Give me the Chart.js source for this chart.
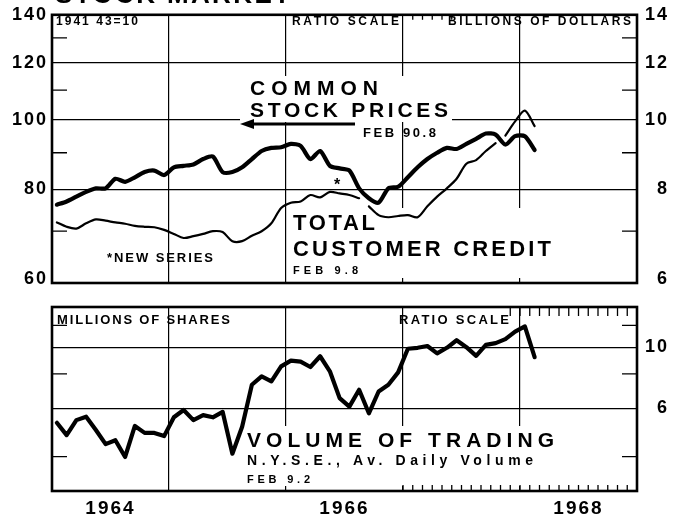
<!DOCTYPE html>
<html>
<head>
<meta charset="utf-8">
<script src="https://cdn.jsdelivr.net/npm/chart.js@4.4.1/dist/chart.umd.min.js"></script>
<style>
  html, body { margin: 0; padding: 0; background: #fff; }
  #wrap { position: relative; width: 682px; height: 514px; }
  canvas { position: absolute; left: 0; top: 0; }
</style>
</head>
<body>
<div id="wrap">
  <canvas id="topChart" width="682" height="514"></canvas>
  <canvas id="bottomChart" width="682" height="514"></canvas>
</div>
<script>
// Months counted from Jan 1964; each value is plotted at mid-month
const yearNames = ['1964', '1965', '1966', '1967', '1968'];
const shownYears = ['1964', '1966', '1968'];

// Common stock prices, 1941-43=10, Jan 1964 - Feb 1968
const stockPrices = [
  76.2, 77.0, 78.2, 79.4, 80.3, 80.3, 82.8, 82.0, 83.2, 84.6, 85.0, 83.8,
  85.9, 86.3, 86.7, 88.2, 88.9, 84.6, 84.6, 85.9, 88.2, 90.5, 91.4, 91.6,
  92.6, 92.0, 88.2, 90.5, 86.3, 85.6, 85.0, 80.3, 77.8, 76.7, 80.3, 80.7,
  83.2, 85.9, 88.2, 90.0, 91.4, 91.1, 92.6, 94.1, 95.7, 95.4, 92.4, 94.9,
  94.9, 90.8
];

// Total customer credit (billions x10 on the left scale)
const creditOld = [          // Jan 1964 - Aug 1966
  72.0, 71.0, 70.6, 71.8, 72.7, 72.4, 72.0, 71.7, 71.2, 71.0, 70.9, 70.3,
  69.4, 68.5, 68.9, 69.4, 70.0, 69.8, 67.8, 67.8, 69.0, 70.0, 71.8, 75.4,
  76.7, 77.0, 78.6, 78.0, 79.4, 79.0, 78.6, 77.8
];
const creditNew = [          // new series, Sep 1966 - Oct 1967
  75.8, 73.7, 73.2, 73.5, 73.7, 73.2, 75.8, 78.2, 80.3, 82.8, 86.9, 87.9,
  90.5, 92.8
];
const creditRecent = [95.1, 99.5, 103.0, 98.0];   // Nov 1967 - Feb 1968

// NYSE average daily volume, millions of shares
const volume = [
  5.31, 4.79, 5.43, 5.59, 5.00, 4.44, 4.59, 3.99, 5.17, 4.88, 4.88, 4.75,
  5.56, 5.91, 5.43, 5.66, 5.56, 5.82, 4.10, 5.14, 7.30, 7.83, 7.51, 8.52,
  8.94, 8.86, 8.47, 9.27, 8.17, 6.53, 6.08, 7.00, 5.75, 6.90, 7.30, 8.10,
  9.87, 9.95, 10.1, 9.5, 9.95, 10.6, 10.0, 9.3, 10.2, 10.35, 10.7, 11.4,
  11.9, 9.2
];

// Tick values
const priceTicks = [60, 70, 80, 90, 100, 110, 120, 130, 140];
const priceLabels = [60, 80, 100, 120, 140];
const priceGrid = [80, 100, 120];
const priceMinor = [70, 90, 110, 130];
const volumeTicks = [4, 6, 8, 10, 12];
const volumeLabels = [6, 10];
const volumeGrid = [6, 10];
const volumeMinor = [4, 8, 12];

const FONT = '"Liberation Sans", Arial, sans-serif';
const monthPoints = (vals, first) => vals.map((v, i) => ({ x: first + i + 0.5, y: v }));

function drawNote(ctx, n) {
  ctx.save();
  ctx.font = `bold ${n.size}px ${FONT}`;
  ctx.fillStyle = '#000';
  ctx.textBaseline = 'alphabetic';
  ctx.letterSpacing = '0px';
  const count = [...n.t].length;
  const natural = ctx.measureText(n.t).width;
  const sp = count > 1 ? (n.w - natural) / (count - 1) : 0;
  ctx.letterSpacing = sp + 'px';
  ctx.fillText(n.t, n.x, n.y);
  ctx.restore();
}

// Frame, minor ticks, white boxes behind captions, captions
function decorate(spec) {
  return {
    id: 'decorate',
    beforeDraw(chart) {
      chart.ctx.letterSpacing = '2px';
    },
    beforeDatasetsDraw(chart) {
      const ctx = chart.ctx;
      ctx.letterSpacing = '0px';
      ctx.save();
      ctx.fillStyle = '#fff';
      (spec.boxes || []).forEach(b => ctx.fillRect(b[0], b[1], b[2], b[3]));
      ctx.restore();
    },
    afterDatasetsDraw(chart) {
      const ctx = chart.ctx;
      const a = chart.chartArea;
      const y = chart.scales.y;
      const x = chart.scales.x;
      ctx.save();
      ctx.strokeStyle = '#000';
      ctx.lineWidth = 1.3;
      spec.minor.forEach(v => {
        const py = y.getPixelForValue(v);
        ctx.beginPath();
        ctx.moveTo(a.left, py); ctx.lineTo(a.left + 15, py);
        ctx.moveTo(a.right - 15, py); ctx.lineTo(a.right, py);
        ctx.stroke();
      });
      (spec.monthTicks || []).forEach(m => {
        for (let i = m.from; i <= m.to; i++) {
          const px = x.getPixelForValue(i);
          ctx.beginPath();
          if (m.edge === 'top') { ctx.moveTo(px, a.top); ctx.lineTo(px, a.top + m.len); }
          else { ctx.moveTo(px, a.bottom); ctx.lineTo(px, a.bottom - m.len); }
          ctx.stroke();
        }
      });
      ctx.lineWidth = 2.6;
      ctx.strokeRect(a.left, a.top, a.right - a.left, a.bottom - a.top);
      if (spec.arrow) {
        const r = spec.arrow;
        ctx.lineWidth = 3;
        ctx.beginPath();
        ctx.moveTo(r.x1, r.y); ctx.lineTo(r.x2, r.y);
        ctx.stroke();
        ctx.beginPath();
        ctx.moveTo(r.x1 - 12, r.y);
        ctx.lineTo(r.x1 + 2, r.y - 5);
        ctx.lineTo(r.x1 + 2, r.y + 5);
        ctx.closePath();
        ctx.fillStyle = '#000';
        ctx.fill();
      }
      ctx.restore();
      spec.notes.forEach(n => drawNote(ctx, n));
    }
  };
}

const topNotes = [
  { t: 'STOCK MARKET', x: 55, y: 3, w: 235, size: 26 },
  { t: '1941 43=10', x: 56, y: 25, w: 82, size: 12 },
  { t: 'RATIO SCALE', x: 292, y: 25, w: 107, size: 12 },
  { t: 'BILLIONS OF DOLLARS', x: 448, y: 25, w: 183, size: 12 },
  { t: 'COMMON', x: 250, y: 95, w: 128, size: 21 },
  { t: 'STOCK PRICES', x: 250, y: 117, w: 198, size: 21 },
  { t: 'FEB 90.8', x: 363, y: 137, w: 73, size: 13 },
  { t: '*', x: 334, y: 190, w: 9, size: 16 },
  { t: 'TOTAL', x: 293, y: 230, w: 82, size: 22 },
  { t: 'CUSTOMER CREDIT', x: 293, y: 256, w: 258, size: 22 },
  { t: 'FEB 9.8', x: 293, y: 274, w: 65, size: 11 },
  { t: '*NEW SERIES', x: 107, y: 262, w: 106, size: 13 }
];

const bottomNotes = [
  { t: 'MILLIONS OF SHARES', x: 57, y: 324, w: 173, size: 13 },
  { t: 'RATIO SCALE', x: 399, y: 324, w: 110, size: 13 },
  { t: 'VOLUME OF TRADING', x: 247, y: 447, w: 307, size: 21 },
  { t: 'N.Y.S.E., Av. Daily Volume', x: 247, y: 465, w: 286, size: 14 },
  { t: 'FEB 9.2', x: 247, y: 483, w: 63, size: 11 }
];

const lineStyle = (w, t) => ({
  borderColor: '#000', borderWidth: w, pointRadius: 0, tension: t,
  borderCapStyle: 'round', borderJoinStyle: 'round', fill: false
});

const tickFont = { family: FONT, size: 18, weight: 'bold' };
const black = '#000';
const clear = 'rgba(0,0,0,0)';

new Chart(document.getElementById('topChart'), {
  type: 'line',
  data: {
    datasets: [
      { data: monthPoints(stockPrices, 0), ...lineStyle(4.2, 0.25) },
      { data: monthPoints(creditOld, 0), ...lineStyle(2.2, 0.3) },
      { data: monthPoints(creditNew, 32), ...lineStyle(2.2, 0.3) },
      { data: monthPoints(creditRecent, 46), ...lineStyle(2.2, 0.3) }
    ]
  },
  options: {
    responsive: false,
    animation: false,
    events: [],
    layout: { padding: { top: 10, bottom: 231, left: 0, right: 13 } },
    plugins: { legend: { display: false }, tooltip: { enabled: false } },
    scales: {
      x: {
        type: 'linear', min: 0, max: 60,
        afterBuildTicks: s => { s.ticks = [12, 24, 36, 48].map(value => ({ value })); },
        afterFit: s => { s.height = 0; },
        ticks: { display: false },
        grid: { color: black, lineWidth: 1.2, drawTicks: false },
        border: { display: false }
      },
      y: {
        type: 'logarithmic', position: 'left', min: 59.3, max: 140,
        afterBuildTicks: s => { s.ticks = priceTicks.map(value => ({ value })); },
        afterFit: s => { s.width = 52; },
        ticks: {
          color: black, font: tickFont, padding: 4, autoSkip: false,
          callback: v => priceLabels.includes(v) ? String(v) : ''
        },
        grid: { color: c => priceGrid.includes(c.tick.value) ? black : clear, lineWidth: 1.2, drawTicks: false },
        border: { display: false }
      },
      y2: {
        type: 'logarithmic', position: 'right', min: 5.93, max: 14,
        afterBuildTicks: s => { s.ticks = priceTicks.map(v => ({ value: v / 10 })); },
        afterFit: s => { s.width = 32; },
        ticks: {
          color: black, font: tickFont, crossAlign: 'far', autoSkip: false,
          callback: v => priceLabels.includes(Math.round(v * 10)) ? String(Math.round(v)) : ''
        },
        grid: { display: false },
        border: { display: false }
      }
    }
  },
  plugins: [decorate({
    minor: priceMinor,
    notes: topNotes,
    boxes: [[240, 76, 212, 46], [288, 208, 266, 70]],
    arrow: { x1: 252, x2: 355, y: 124 },
    monthTicks: [{ from: 37, to: 41, edge: 'top', len: 5 }]
  })]
});

new Chart(document.getElementById('bottomChart'), {
  type: 'line',
  data: {
    datasets: [
      { data: monthPoints(volume, 0), ...lineStyle(4.2, 0) }
    ]
  },
  options: {
    responsive: false,
    animation: false,
    events: [],
    layout: { padding: { top: 307, bottom: 0, left: 0, right: 13 } },
    plugins: { legend: { display: false }, tooltip: { enabled: false } },
    scales: {
      x: {
        type: 'linear', min: 0, max: 60,
        afterBuildTicks: s => { s.ticks = [6, 12, 24, 30, 36, 48, 54].map(value => ({ value })); },
        afterFit: s => { s.height = 23; },
        ticks: {
          color: black, font: { family: FONT, size: 19, weight: 'bold' }, padding: 6,
          autoSkip: false, maxRotation: 0,
          callback: v => {
            const name = v % 12 === 6 ? yearNames[(v - 6) / 12] : '';
            return shownYears.includes(name) ? name : '';
          }
        },
        grid: { color: c => c.tick.value % 12 === 0 ? black : clear, lineWidth: 1.2, drawTicks: false },
        border: { display: false }
      },
      y: {
        type: 'logarithmic', position: 'left', min: 3, max: 14,
        afterBuildTicks: s => { s.ticks = volumeTicks.map(value => ({ value })); },
        afterFit: s => { s.width = 52; },
        ticks: { display: false },
        grid: { color: c => volumeGrid.includes(c.tick.value) ? black : clear, lineWidth: 1.2, drawTicks: false },
        border: { display: false }
      },
      y2: {
        type: 'logarithmic', position: 'right', min: 3, max: 14,
        afterBuildTicks: s => { s.ticks = volumeTicks.map(value => ({ value })); },
        afterFit: s => { s.width = 32; },
        ticks: {
          color: black, font: tickFont, crossAlign: 'far', autoSkip: false,
          callback: v => volumeLabels.includes(v) ? String(v) : ''
        },
        grid: { display: false },
        border: { display: false }
      }
    }
  },
  plugins: [decorate({
    minor: volumeMinor,
    notes: bottomNotes,
    boxes: [[244, 426, 314, 60]],
    monthTicks: [
      { from: 36, to: 59, edge: 'bottom', len: 6 },
      { from: 47, to: 59, edge: 'top', len: 9 }
    ]
  })]
});
</script>
</body>
</html>
